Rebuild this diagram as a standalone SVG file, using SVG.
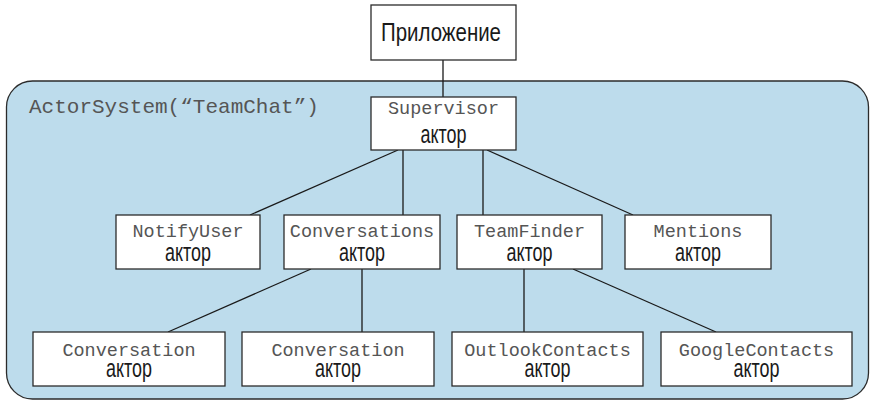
<svg xmlns="http://www.w3.org/2000/svg" width="872" height="402" viewBox="0 0 872 402">
  <style>
    .box { fill: #ffffff; stroke: #2b2b2b; stroke-width: 1.3; }
    .sys { fill: #bddcec; stroke: #2b2b2b; stroke-width: 1.3; }
    .link { stroke: #1a1a1a; stroke-width: 1.3; fill: none; }
    .code { font-family: "Liberation Mono", "Courier New", monospace; font-size: 18.5px; fill: #555555; text-anchor: middle; }
    .kind { font-family: "Liberation Sans", Arial, sans-serif; font-size: 25px; fill: #1a1a1a; text-anchor: middle; }
    .title { font-family: "Liberation Mono", "Courier New", monospace; font-size: 21px; fill: #555555; }
  </style>

  <!-- actor system container -->
  <g id="actor-system">
    <rect class="sys" x="6.5" y="81" width="862" height="318" rx="26" ry="26"/>
    <text class="title" x="29" y="113">ActorSystem(“TeamChat”)</text>
  </g>

  <!-- connectors -->
  <g id="connectors">
    <line class="link" x1="443" y1="60" x2="443" y2="97"/>
    <line class="link" x1="398" y1="150" x2="250" y2="215"/>
    <line class="link" x1="403" y1="150" x2="403" y2="215"/>
    <line class="link" x1="483" y1="150" x2="483" y2="215"/>
    <line class="link" x1="487" y1="150" x2="633" y2="215"/>
    <line class="link" x1="311" y1="269" x2="168" y2="332"/>
    <line class="link" x1="362" y1="269" x2="362" y2="332"/>
    <line class="link" x1="524" y1="269" x2="524" y2="332"/>
    <line class="link" x1="573" y1="269" x2="716" y2="332"/>
  </g>

  <g id="app">
    <rect class="box" x="371" y="5" width="145" height="55"/>
    <text class="kind" x="441" y="41" textLength="120" lengthAdjust="spacingAndGlyphs">Приложение</text>
  </g>

  <g id="supervisor">
    <rect class="box" x="371" y="97" width="145" height="53"/>
    <text class="code" x="443.5" y="114">Supervisor</text>
    <text class="kind" x="443.5" y="143" textLength="46" lengthAdjust="spacingAndGlyphs">актор</text>
  </g>

  <g id="notify-user">
    <rect class="box" x="116" y="215" width="144" height="54"/>
    <text class="code" x="188" y="237">NotifyUser</text>
    <text class="kind" x="188" y="261" textLength="46" lengthAdjust="spacingAndGlyphs">актор</text>
  </g>

  <g id="conversations">
    <rect class="box" x="284" y="215" width="156" height="54"/>
    <text class="code" x="362" y="237">Conversations</text>
    <text class="kind" x="362" y="261" textLength="46" lengthAdjust="spacingAndGlyphs">актор</text>
  </g>

  <g id="team-finder">
    <rect class="box" x="457" y="215" width="145" height="54"/>
    <text class="code" x="529.5" y="237">TeamFinder</text>
    <text class="kind" x="529.5" y="261" textLength="46" lengthAdjust="spacingAndGlyphs">актор</text>
  </g>

  <g id="mentions">
    <rect class="box" x="625" y="215" width="146" height="54"/>
    <text class="code" x="698" y="237">Mentions</text>
    <text class="kind" x="698" y="261" textLength="46" lengthAdjust="spacingAndGlyphs">актор</text>
  </g>

  <g id="conversation-1">
    <rect class="box" x="33" y="332" width="192" height="54"/>
    <text class="code" x="129" y="356">Conversation</text>
    <text class="kind" x="129" y="377" textLength="46" lengthAdjust="spacingAndGlyphs">актор</text>
  </g>

  <g id="conversation-2">
    <rect class="box" x="242" y="332" width="192" height="54"/>
    <text class="code" x="338" y="356">Conversation</text>
    <text class="kind" x="338" y="377" textLength="46" lengthAdjust="spacingAndGlyphs">актор</text>
  </g>

  <g id="outlook-contacts">
    <rect class="box" x="452" y="332" width="191" height="54"/>
    <text class="code" x="547.5" y="356">OutlookContacts</text>
    <text class="kind" x="547.5" y="377" textLength="46" lengthAdjust="spacingAndGlyphs">актор</text>
  </g>

  <g id="google-contacts">
    <rect class="box" x="661" y="332" width="191" height="54"/>
    <text class="code" x="756.5" y="356">GoogleContacts</text>
    <text class="kind" x="756.5" y="377" textLength="46" lengthAdjust="spacingAndGlyphs">актор</text>
  </g>
</svg>
